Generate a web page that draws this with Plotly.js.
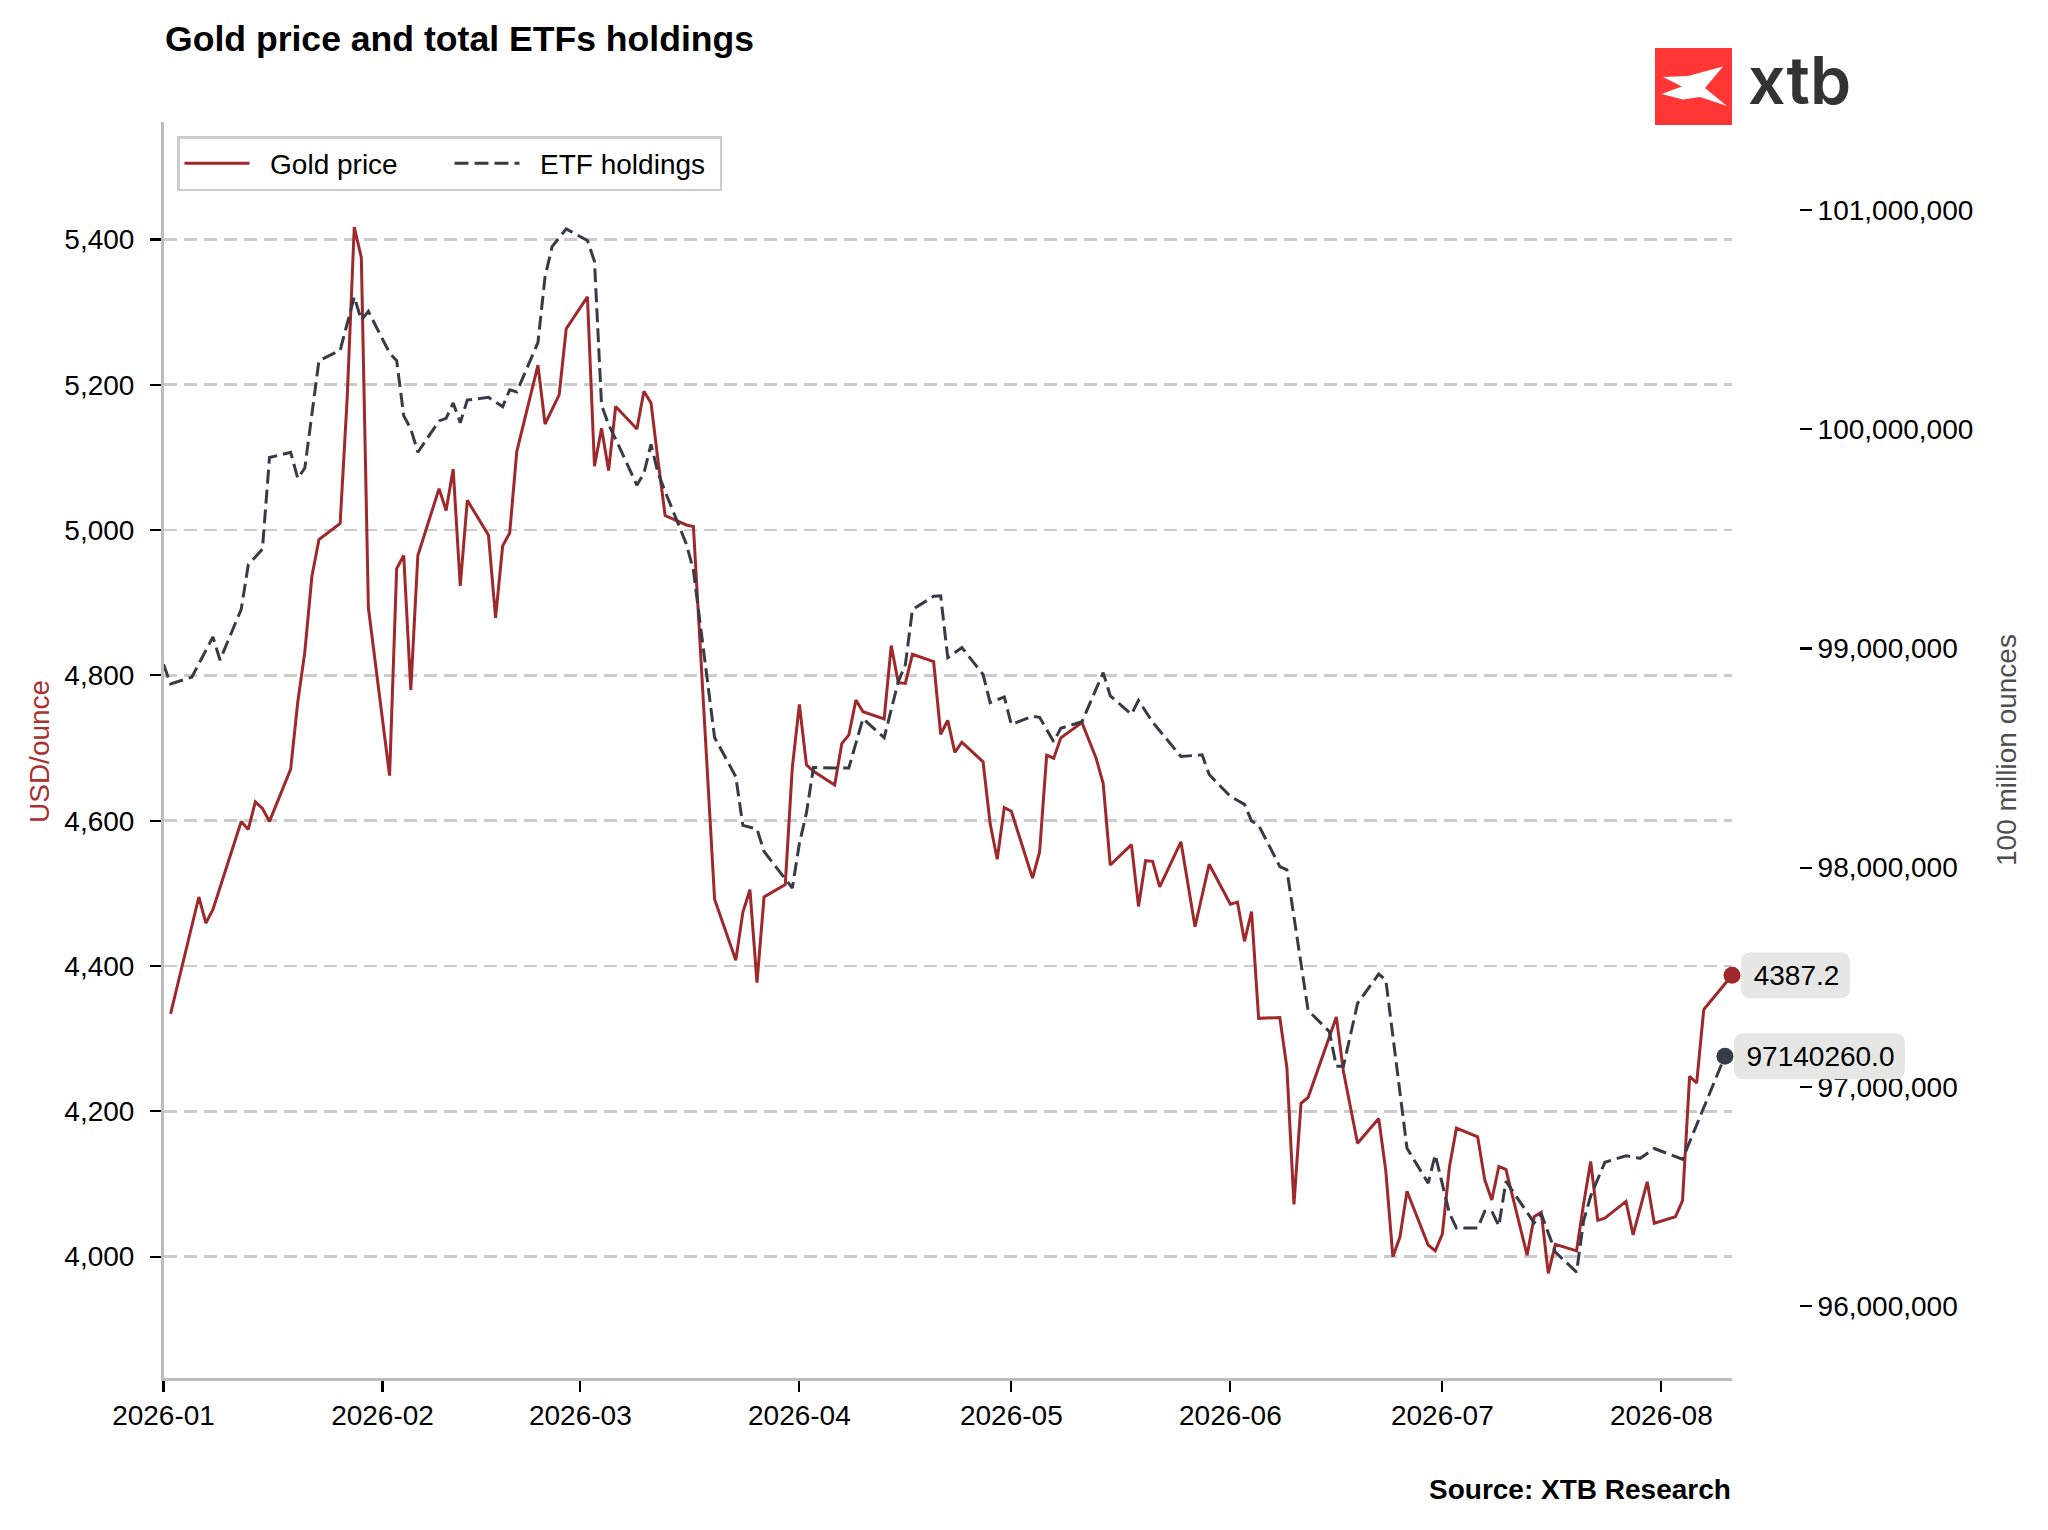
<!DOCTYPE html>
<html>
<head>
<meta charset="utf-8">
<script src="https://cdn.plot.ly/plotly-3.0.1.min.js"></script>
<style>
  html, body { margin: 0; padding: 0; background: #ffffff; }
  #chart { width: 2048px; height: 1530px; }
</style>
</head>
<body>
<div id="chart"></div>
<script>
// ---------------- DATA ----------------
const goldDates = [
  "2026-01-02","2026-01-06","2026-01-07","2026-01-08","2026-01-12","2026-01-13","2026-01-14","2026-01-15","2026-01-16",
  "2026-01-19","2026-01-20","2026-01-21","2026-01-22","2026-01-23","2026-01-26","2026-01-27","2026-01-28","2026-01-29","2026-01-30",
  "2026-02-02","2026-02-03","2026-02-04","2026-02-05","2026-02-06","2026-02-09","2026-02-10","2026-02-11","2026-02-12","2026-02-13",
  "2026-02-16","2026-02-17","2026-02-18","2026-02-19","2026-02-20","2026-02-23","2026-02-24","2026-02-26","2026-02-27",
  "2026-03-02","2026-03-03","2026-03-04","2026-03-05","2026-03-06","2026-03-09","2026-03-10","2026-03-11","2026-03-12","2026-03-13",
  "2026-03-16","2026-03-17","2026-03-20","2026-03-23","2026-03-24","2026-03-25","2026-03-26","2026-03-27","2026-03-30","2026-03-31",
  "2026-04-01","2026-04-02","2026-04-03","2026-04-06","2026-04-07","2026-04-08","2026-04-09","2026-04-10","2026-04-13","2026-04-14",
  "2026-04-15","2026-04-16","2026-04-17","2026-04-20","2026-04-21","2026-04-22","2026-04-23","2026-04-24","2026-04-27","2026-04-28",
  "2026-04-29","2026-04-30","2026-05-01","2026-05-04","2026-05-05","2026-05-06","2026-05-07","2026-05-08","2026-05-11","2026-05-13",
  "2026-05-14","2026-05-15","2026-05-18","2026-05-19","2026-05-20","2026-05-21","2026-05-22","2026-05-25","2026-05-27","2026-05-29",
  "2026-06-01","2026-06-02","2026-06-03","2026-06-04","2026-06-05","2026-06-08","2026-06-09","2026-06-10","2026-06-11","2026-06-12",
  "2026-06-16","2026-06-17","2026-06-19","2026-06-22","2026-06-23","2026-06-24","2026-06-25","2026-06-26","2026-06-29","2026-06-30",
  "2026-07-01","2026-07-02","2026-07-03","2026-07-06","2026-07-07","2026-07-08","2026-07-09","2026-07-10","2026-07-13","2026-07-14",
  "2026-07-15","2026-07-16","2026-07-17","2026-07-20","2026-07-21","2026-07-22","2026-07-23","2026-07-24","2026-07-27","2026-07-28",
  "2026-07-30","2026-07-31","2026-08-03","2026-08-04","2026-08-05","2026-08-06","2026-08-07","2026-08-11"
];
const goldPrice = [
  4334,4495,4459,4478,4599,4588,4626,4617,4599,
  4671,4763,4832,4936,4987,5009,5182,5417,5375,4893,
  4662,4947,4965,4780,4965,5057,5027,5084,4923,5041,
  4993,4879,4978,4996,5108,5227,5146,5186,5277,
  5321,5088,5140,5082,5170,5139,5191,5175,5095,5020,
  5007,5005,4492,4408,4474,4505,4377,4495,4512,4673,
  4760,4677,4668,4649,4706,4718,4766,4750,4740,4841,
  4790,4789,4829,4819,4719,4738,4694,4708,4681,4596,
  4547,4618,4613,4521,4557,4690,4686,4714,4735,4686,
  4651,4539,4567,4482,4545,4544,4509,4571,4454,4540,
  4485,4488,4434,4475,4328,4329,4260,4072,4211,4219,
  4330,4255,4156,4190,4118,4000,4027,4090,4016,4008,
  4031,4123,4177,4165,4106,4078,4124,4120,4002,4055,
  4061,3977,4017,4008,4073,4131,4050,4053,4076,4030,
  4103,4046,4055,4077,4248,4239,4340,4387.2
];

const etfDates = [
  "2026-01-01","2026-01-02","2026-01-05","2026-01-08","2026-01-09","2026-01-12","2026-01-13","2026-01-15","2026-01-16",
  "2026-01-19","2026-01-20","2026-01-21","2026-01-23","2026-01-26","2026-01-28","2026-01-29","2026-01-30",
  "2026-02-02","2026-02-03","2026-02-04","2026-02-05","2026-02-06","2026-02-09","2026-02-10","2026-02-11","2026-02-12","2026-02-13",
  "2026-02-16","2026-02-18","2026-02-19","2026-02-20","2026-02-23","2026-02-24","2026-02-25","2026-02-27",
  "2026-03-02","2026-03-03","2026-03-04","2026-03-05","2026-03-06","2026-03-09","2026-03-10","2026-03-11","2026-03-12","2026-03-13",
  "2026-03-16","2026-03-17","2026-03-20","2026-03-23","2026-03-24","2026-03-26","2026-03-27","2026-03-31",
  "2026-04-01","2026-04-02","2026-04-03","2026-04-06","2026-04-08","2026-04-10","2026-04-13","2026-04-15","2026-04-16","2026-04-17",
  "2026-04-20","2026-04-21","2026-04-22","2026-04-24","2026-04-27","2026-04-28","2026-04-30",
  "2026-05-01","2026-05-04","2026-05-05","2026-05-07","2026-05-08","2026-05-11","2026-05-14","2026-05-15","2026-05-18","2026-05-19",
  "2026-05-21","2026-05-25","2026-05-28","2026-05-29",
  "2026-06-01","2026-06-03","2026-06-04","2026-06-05","2026-06-08","2026-06-09","2026-06-12","2026-06-15","2026-06-16","2026-06-17",
  "2026-06-19","2026-06-22","2026-06-23","2026-06-26","2026-06-29","2026-06-30",
  "2026-07-02","2026-07-03","2026-07-06","2026-07-07","2026-07-08","2026-07-09","2026-07-10","2026-07-14","2026-07-15","2026-07-17",
  "2026-07-20","2026-07-21","2026-07-22","2026-07-24","2026-07-27","2026-07-29","2026-07-31",
  "2026-08-04","2026-08-10"
];
// ETF holdings, in ounces
const etfHoldings = [
  98928000,98838000,98869000,99053000,98947000,99179000,99382000,99453000,99871000,
  99895000,99776000,99823000,100313000,100360000,100604000,100498000,100538000,
  100348000,100313000,100062000,100002000,99895000,100038000,100050000,100120000,100030000,100133000,
  100146000,100103000,100180000,100170000,100396000,100695000,100833000,100914000,
  100861000,100766000,100110000,100021000,99955000,99745000,99800000,99931000,99800000,99716000,
  99477000,99358000,98594000,98415000,98193000,98176000,98074000,97907000,
  98110000,98250000,98457000,98455000,98455000,98680000,98593000,98849000,98926000,99177000,
  99238000,99240000,98958000,99004000,98881000,98753000,98779000,
  98653000,98691000,98686000,98575000,98636000,98666000,98890000,98784000,98700000,98763000,
  98664000,98507000,98515000,98425000,
  98325000,98289000,98213000,98194000,98005000,97990000,97349000,97253000,97094000,97094000,
  97381000,97515000,97488000,96720000,96561000,96690000,
  96424000,96356000,96356000,96433000,96433000,96365000,96570000,96380000,96421000,96246000,
  96155000,96390000,96502000,96656000,96686000,96674000,96719000,
  96670000,97140260
];

const monthTicks = ["2026-01-01","2026-02-01","2026-03-01","2026-04-01","2026-05-01","2026-06-01","2026-07-01","2026-08-01"];
const goldTicks = [4000,4200,4400,4600,4800,5000,5200,5400];
const etfTicks = [96000000,97000000,98000000,99000000,100000000,101000000];

// ---------------- STYLE ----------------
const W = 2048, H = 1530;
const FONT = "Liberation Sans, Arial, Helvetica, sans-serif";
const GOLD = "#9f282b";
const ETF = "#363b47";
const LABEL_BG = "#e6e6e4";
const px = v => v / W;
const py = v => 1 - v / H;
const NB = "\u00A0\u00A0";

const goldLastX = goldDates[goldDates.length - 1];
const goldLastY = goldPrice[goldPrice.length - 1];
const etfLastX = etfDates[etfDates.length - 1];
const etfLastY = etfHoldings[etfHoldings.length - 1];

const traces = [
  {
    x: goldDates, y: goldPrice, type: "scatter", mode: "lines", name: NB + "Gold price",
    line: { color: GOLD, width: 3 }, yaxis: "y", hoverinfo: "skip"
  },
  {
    x: etfDates, y: etfHoldings, type: "scatter", mode: "lines", name: NB + "ETF holdings",
    line: { color: ETF, width: 3, dash: "14px,6px" }, yaxis: "y2", hoverinfo: "skip"
  },
  {
    x: [goldLastX], y: [goldLastY], type: "scatter", mode: "markers", showlegend: false,
    marker: { color: GOLD, size: 17 }, yaxis: "y", cliponaxis: false, hoverinfo: "skip"
  },
  {
    x: [etfLastX], y: [etfLastY], type: "scatter", mode: "markers", showlegend: false,
    marker: { color: ETF, size: 17 }, yaxis: "y2", cliponaxis: false, hoverinfo: "skip"
  }
];

// logo X glyph (pixel outline inside the red square)
const glyph = [[1663,77],[1688,76],[1723,66.5],[1705,88],[1727,106],[1700,97],[1683,99.5],[1661.5,94],[1682,86.5]];
const glyphPath = "M " + glyph.map(p => px(p[0]).toFixed(5) + "," + py(p[1]).toFixed(5)).join(" L ") + " Z";

const layout = {
  width: W, height: H,
  margin: { l: 0, r: 0, t: 0, b: 0 },
  paper_bgcolor: "#ffffff", plot_bgcolor: "#ffffff",
  font: { family: FONT, size: 28, color: "#000000" },
  showlegend: true,
  title: {
    text: "Gold price and total ETFs holdings",
    x: px(165), xanchor: "left", y: py(39), yanchor: "middle",
    font: { family: FONT, size: 35.6, weight: "bold", color: "#000000" }
  },
  xaxis: {
    type: "date", domain: [px(163.5), px(1732)], range: ["2026-01-01", "2026-08-11"],
    tickmode: "array", tickvals: monthTicks, tickformat: "%Y-%m",
    ticks: "outside", ticklen: 11, tickwidth: 2.2, tickcolor: "#000000",
    showline: true, linecolor: "#bdbdbd", linewidth: 2.5,
    showgrid: false, zeroline: false, tickfont: { size: 28 }, anchor: "y", fixedrange: true
  },
  yaxis: {
    domain: [1 - 1378 / H, 1 - 121.7 / H], range: [3833, 5562],
    tickmode: "array", tickvals: goldTicks, tickformat: ",",
    ticks: "outside", ticklen: 11, tickwidth: 2.2, tickcolor: "#000000", ticklabelstandoff: 10,
    showline: true, linecolor: "#bdbdbd", linewidth: 2.5,
    showgrid: true, gridcolor: "#cbcbcb", gridwidth: 2.5, griddash: "13px,7px",
    zeroline: false, tickfont: { size: 28 }, fixedrange: true
  },
  yaxis2: {
    overlaying: "y", side: "right", anchor: "free", position: px(1799),
    range: [95672000, 101403000],
    tickmode: "array", tickvals: etfTicks, tickformat: ",d",
    ticks: "outside", ticklen: 12, tickwidth: 2.2, tickcolor: "#000000",
    showline: false, showgrid: false, zeroline: false, tickfont: { size: 28 }, fixedrange: true
  },
  legend: {
    orientation: "h", x: px(177), y: py(136), xanchor: "left", yanchor: "top",
    bgcolor: "#ffffff", bordercolor: "#cccccc", borderwidth: 2.5,
    font: { family: FONT, size: 28, color: "#000000" }, itemwidth: 65,
    entrywidth: 190, entrywidthmode: "pixels"
  },
  shapes: [
    { type: "rect", xref: "paper", yref: "paper", x0: px(1655), x1: px(1732), y0: py(125), y1: py(48),
      fillcolor: "#ff3636", line: { width: 0 }, layer: "above" },
    { type: "path", xref: "paper", yref: "paper", path: glyphPath,
      fillcolor: "#ffffff", line: { width: 0 }, layer: "above" }
  ],
  annotations: [
    { text: "xtb", xref: "paper", yref: "paper", x: px(1746), y: py(80), xanchor: "left", yanchor: "middle",
      showarrow: false, font: { family: "Inter, Lato, sans-serif", size: 66, weight: 600, color: "#333333" } },
    { text: "USD/ounce", xref: "paper", yref: "paper", x: px(39), y: py(752), xanchor: "center", yanchor: "middle",
      textangle: -90, showarrow: false, font: { family: FONT, size: 28, color: "#a8302f" } },
    { text: "100 million ounces", xref: "paper", yref: "paper", x: px(2006), y: py(750), xanchor: "center", yanchor: "middle",
      textangle: -90, showarrow: false, font: { family: FONT, size: 28, color: "#4d4d4d" } },
    { text: "<b>Source: XTB Research</b>", xref: "paper", yref: "paper", x: px(1733), y: py(1489), xanchor: "right", yanchor: "middle",
      showarrow: false, font: { family: FONT, size: 28, color: "#000000" } },
    { text: goldLastY.toFixed(1), xref: "x", yref: "y", x: goldLastX, y: goldLastY, xanchor: "left", yanchor: "middle",
      xshift: 9, showarrow: false, bgcolor: LABEL_BG, borderpad: 8, width: 93, height: 30, align: "center",
      font: { family: FONT, size: 28, color: "#000000" } },
    { text: etfLastY.toFixed(1), xref: "x", yref: "y2", x: etfLastX, y: etfLastY, xanchor: "left", yanchor: "middle",
      xshift: 9, showarrow: false, bgcolor: LABEL_BG, borderpad: 8, width: 155, height: 30, align: "center",
      font: { family: FONT, size: 28, color: "#000000" } }
  ]
};

// rounded label box (pixel geometry -> paper path)
function roundedBox(left, top, w, h, r) {
  const P = (x, y) => px(x).toFixed(5) + "," + py(y).toFixed(5);
  const R = left + w, B = top + h;
  return "M " + P(left + r, top) + " L " + P(R - r, top) + " Q " + P(R, top) + " " + P(R, top + r) +
         " L " + P(R, B - r) + " Q " + P(R, B) + " " + P(R - r, B) +
         " L " + P(left + r, B) + " Q " + P(left, B) + " " + P(left, B - r) +
         " L " + P(left, top + r) + " Q " + P(left, top) + " " + P(left + r, top) + " Z";
}

Plotly.newPlot("chart", traces, layout, { staticPlot: true, displayModeBar: false }).then(function (gd) {
  try {
    const fl = gd._fullLayout;
    const xa = fl.xaxis, ya = fl.yaxis, ya2 = fl.yaxis2;
    const toPix = (ax, v) => ax._offset + ax.l2p(ax.d2l(v));
    const gx = toPix(xa, goldLastX), gy = toPix(ya, goldLastY);
    const ex = toPix(xa, etfLastX), ey = toPix(ya2, etfLastY);
    if (![gx, gy, ex, ey].every(isFinite)) return;
    const boxes = [
      { type: "path", xref: "paper", yref: "paper", layer: "above", fillcolor: LABEL_BG, line: { width: 0 },
        path: roundedBox(gx + 9, gy - 23, 109, 46, 10) },
      { type: "path", xref: "paper", yref: "paper", layer: "above", fillcolor: LABEL_BG, line: { width: 0 },
        path: roundedBox(ex + 9, ey - 23, 171, 46, 10) }
    ];
    Plotly.relayout(gd, {
      shapes: layout.shapes.concat(boxes),
      "annotations[4].bgcolor": "rgba(0,0,0,0)",
      "annotations[5].bgcolor": "rgba(0,0,0,0)"
    });
  } catch (e) { /* keep square label backgrounds */ }
});
</script>
</body>
</html>
